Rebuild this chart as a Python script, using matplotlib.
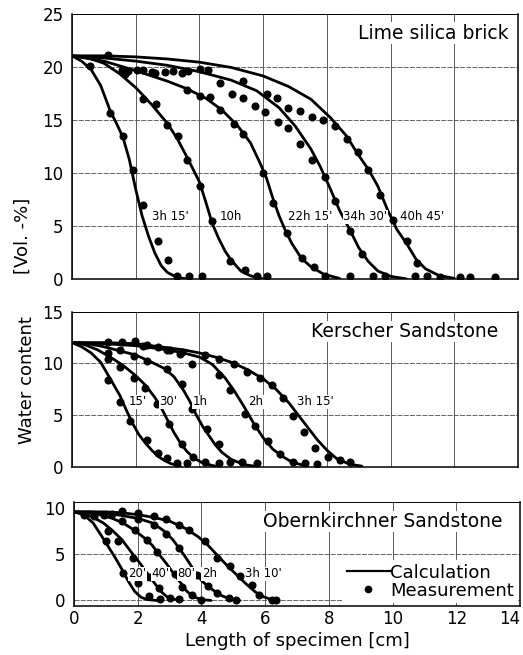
import matplotlib.pyplot as plt
from matplotlib.lines import Line2D

# Lime silica brick: calculated profiles and measured points
lime_labels = ["3h 15'", "10h", "22h 15'", "34h 30'", "40h 45'"]
lime_label_x = [2.5, 4.65, 6.79, 8.52, 10.3]
lime_label_y = 5.9
lime_calc_x = [
    [0, 0.3, 0.6, 0.9, 1.2, 1.4, 1.6, 1.8, 2.0, 2.2, 2.4, 2.6, 2.8, 3.0, 3.3, 3.7],
    [0, 0.5, 1.0, 1.5, 2.0, 2.5, 3.0, 3.3, 3.6, 3.8, 4.0, 4.2, 4.4, 4.6, 4.8, 5.0, 5.3, 5.6, 6.0],
    [0, 1.0, 2.0, 3.0, 3.6, 4.2, 4.7, 5.2, 5.6, 5.9, 6.1, 6.3, 6.5, 6.7, 6.9, 7.2, 7.5, 7.9, 8.4],
    [0, 1.0, 2.0, 3.0, 4.0, 5.0, 5.8, 6.5, 7.0, 7.5, 7.8, 8.1, 8.4, 8.7, 9.0, 9.3, 9.6, 10.0, 10.5],
    [0, 1.0, 2.0, 3.0, 4.0, 5.0, 6.0, 6.8, 7.5, 8.1, 8.6, 9.0, 9.3, 9.6, 9.9, 10.2, 10.5, 10.8,
     11.1, 11.5, 12.0],
]
lime_calc_y = [
    [21.1, 20.6, 19.8, 18.3, 15.9, 14.7, 13.4, 11.3, 8.5, 6.0, 4.1, 2.5, 1.3, 0.65, 0.2, 0.0],
    [21.1, 20.9, 20.4, 19.4, 18.1, 16.5, 14.7, 13.3, 11.6, 10.4, 9.2, 7.3, 5.3, 3.9, 2.7, 1.8, 0.8, 0.35, 0.05],
    [21.1, 20.6, 19.7, 18.7, 18.0, 17.1, 16.0, 14.5, 12.9, 11.0, 9.6, 7.7, 6.0, 4.6, 3.4, 2.0, 1.2, 0.5, 0.1],
    [21.1, 20.9, 20.6, 20.2, 19.6, 18.8, 17.8, 16.2, 14.5, 12.3, 10.6, 8.6, 6.5, 4.8, 3.0, 1.7, 0.8, 0.3, 0.05],
    [21.1, 21.1, 21.0, 20.8, 20.5, 20.0, 19.2, 18.2, 17.0, 15.3, 13.6, 11.7, 10.4, 8.8, 6.6, 4.7, 3.4, 1.9,
     1.0, 0.4, 0.1],
]
lime_meas_x = [
    [1.19, 1.61, 1.92, 2.24, 2.69, 3.0, 3.29, 3.66, 4.08],
    [0.56, 1.56, 1.66, 2.24, 2.64, 2.97, 3.34, 3.62, 4.02, 4.39, 4.97, 5.44, 5.80, 6.11],
    [1.77, 2.03, 2.5, 3.18, 3.60, 4.02, 4.33, 4.65, 5.07, 5.38, 6.01, 6.32, 6.74, 7.21, 7.58, 7.94, 8.73],
    [2.24, 2.6, 2.92, 3.44, 3.65, 4.02, 4.65, 5.01, 5.38, 5.74, 6.06, 6.48, 6.79, 7.16, 7.53, 7.94, 8.26,
     8.73, 9.09, 9.46, 9.83],
    [1.14, 4.28, 5.38, 6.11, 6.42, 6.79, 7.16, 7.53, 7.89, 8.26, 8.62, 8.99, 9.30, 9.67, 10.09, 10.51,
     10.83, 10.77, 11.14, 11.55, 12.18, 12.50, 13.28],
]
lime_meas_y = [
    [15.7, 13.5, 10.3, 7.0, 3.6, 1.8, 0.3, 0.3, 0.3],
    [20.1, 19.8, 19.4, 17.0, 16.6, 14.6, 13.5, 11.3, 8.8, 5.5, 1.7, 0.9, 0.3, 0.3],
    [19.7, 19.8, 19.6, 19.7, 17.9, 17.3, 17.2, 16.0, 14.7, 13.7, 10.0, 7.2, 4.4, 2.0, 1.2, 0.3, 0.3],
    [19.8, 19.5, 19.6, 19.5, 19.7, 19.9, 18.5, 17.5, 17.1, 16.4, 15.8, 14.9, 14.3, 12.8, 11.3, 9.7, 7.4,
     4.6, 2.4, 0.3, 0.3],
    [21.2, 19.8, 18.7, 17.5, 17.1, 16.2, 15.9, 15.3, 15.0, 14.5, 13.3, 12.0, 10.3, 8.0, 5.6, 3.6,
     1.6, 0.3, 0.3, 0.2, 0.2, 0.2, 0.2],
]

# Kerscher sandstone
kersch_labels = ["15'", "30'", "1h", "2h", "3h 15'"]
kersch_label_x = [1.77, 2.74, 3.79, 5.53, 7.05]
kersch_label_y = 6.3
kersch_calc_x = [
    [0, 0.3, 0.6, 0.9, 1.2, 1.5, 1.7, 1.9, 2.1, 2.3, 2.5, 2.7, 2.9, 3.1, 3.4],
    [0, 0.4, 0.8, 1.2, 1.6, 2.0, 2.3, 2.6, 2.8, 3.0, 3.2, 3.4, 3.6, 3.8, 4.1, 4.5],
    [0, 0.5, 1.0, 1.5, 2.0, 2.5, 2.9, 3.2, 3.5, 3.7, 3.9, 4.1, 4.3, 4.5, 4.7, 5.0, 5.4, 5.8],
    [0, 1.0, 2.0, 2.5, 3.0, 3.5, 4.0, 4.4, 4.8, 5.1, 5.4, 5.7, 6.0, 6.3, 6.6, 6.9, 7.3],
    [0, 1.0, 2.0, 3.0, 3.5, 4.0, 4.5, 5.0, 5.5, 6.0, 6.4, 6.8, 7.1, 7.4, 7.7, 8.0, 8.3, 8.7, 9.1],
]
kersch_calc_y = [
    [12.0, 11.6, 11.0, 10.1, 8.5, 6.9, 5.5, 4.2, 3.1, 2.3, 1.6, 1.0, 0.6, 0.3, 0.05],
    [12.0, 11.8, 11.3, 10.6, 9.8, 8.8, 7.9, 6.7, 5.7, 4.5, 3.3, 2.3, 1.5, 0.9, 0.35, 0.05],
    [12.0, 11.9, 11.6, 11.2, 10.8, 10.1, 9.5, 8.7, 7.4, 6.3, 5.0, 3.9, 3.0, 2.1, 1.4, 0.7, 0.2, 0.02],
    [12.0, 11.9, 11.7, 11.5, 11.3, 11.0, 10.6, 9.9, 8.6, 7.3, 5.8, 4.2, 2.8, 1.7, 1.0, 0.45, 0.1],
    [12.0, 12.0, 11.9, 11.5, 11.3, 11.0, 10.6, 10.1, 9.4, 8.5, 7.5, 6.2, 5.0, 3.8, 2.6, 1.6, 0.8, 0.25, 0.05],
]
kersch_meas_x = [
    [1.14, 1.51, 1.82, 2.34, 2.7, 2.97, 3.28, 3.6],
    [1.14, 1.51, 1.93, 2.29, 2.66, 3.03, 3.44, 3.81, 4.18, 4.6],
    [1.14, 1.51, 1.93, 2.35, 2.97, 3.44, 3.76, 4.23, 4.6, 4.97, 5.33, 5.8],
    [2.24, 2.97, 3.39, 3.76, 4.6, 4.97, 5.43, 5.74, 6.16, 6.53, 6.95, 7.32, 7.68],
    [1.14, 1.56, 1.98, 2.35, 2.71, 3.08, 3.44, 4.18, 4.6, 5.07, 5.48, 5.9, 6.27, 6.63, 6.95, 7.27,
     7.63, 8.05, 8.41, 8.73],
]
kersch_meas_y = [
    [8.4, 6.3, 4.4, 2.6, 1.3, 0.8, 0.4, 0.4],
    [10.4, 9.6, 8.6, 7.6, 6.1, 4.1, 2.2, 0.9, 0.5, 0.4],
    [11.0, 11.3, 10.7, 10.2, 9.4, 8.0, 5.6, 3.6, 2.2, 0.5, 0.5, 0.4],
    [11.7, 11.3, 10.9, 9.9, 8.9, 7.4, 5.1, 3.9, 2.5, 1.2, 0.5, 0.4, 0.3],
    [12.1, 12.1, 12.2, 11.8, 11.6, 11.3, 11.1, 10.8, 10.4, 9.9, 9.2, 8.6, 7.9, 6.6, 4.9, 3.4,
     1.8, 0.9, 0.6, 0.5],
]

# Obernkirchner sandstone
obern_labels = ["20'", "40'", "80'", "2h", "3h 10'"]
obern_label_x = [1.7, 2.44, 3.24, 4.01, 5.37]
obern_label_y = 2.9
obern_calc_x = [
    [0, 0.3, 0.6, 0.9, 1.1, 1.3, 1.5, 1.7, 1.9, 2.1, 2.3, 2.6],
    [0, 0.3, 0.6, 0.92, 1.2, 1.5, 1.85, 2.1, 2.31, 2.5, 2.72, 2.9, 3.1, 3.4],
    [0, 0.4, 0.8, 1.2, 1.54, 1.9, 2.2, 2.45, 2.67, 2.9, 3.13, 3.35, 3.54, 3.75, 4.0, 4.3],
    [0, 0.5, 1.0, 1.5, 2.0, 2.46, 2.8, 3.1, 3.44, 3.65, 3.85, 4.05, 4.25, 4.42, 4.65, 4.9, 5.2],
    [0, 0.5, 1.0, 1.5, 2.0, 2.5, 3.0, 3.5, 3.9, 4.2, 4.5, 4.8, 5.1, 5.4, 5.7, 5.95, 6.2, 6.4],
]
obern_calc_y = [
    [9.6, 9.3, 8.4, 6.8, 5.7, 4.6, 3.4, 2.1, 1.0, 0.35, 0.1, 0.0],
    [9.6, 9.4, 9.0, 8.4, 7.6, 6.6, 5.0, 3.9, 2.9, 2.0, 1.0, 0.45, 0.15, 0.0],
    [9.6, 9.5, 9.3, 8.9, 8.4, 7.6, 6.8, 6.0, 5.0, 4.0, 2.9, 1.9, 1.0, 0.4, 0.1, 0.0],
    [9.6, 9.6, 9.5, 9.2, 8.9, 8.4, 7.6, 6.6, 5.0, 3.9, 2.8, 2.0, 1.4, 1.0, 0.5, 0.15, 0.0],
    [9.6, 9.6, 9.6, 9.5, 9.3, 9.0, 8.6, 7.8, 6.9, 6.0, 4.9, 3.8, 2.8, 1.8, 0.9, 0.4, 0.1, 0.0],
]
obern_meas_x = [
    [0.31, 1.0, 1.54, 2.0, 2.36, 2.7],
    [0.62, 1.07, 1.38, 1.85, 2.36, 2.67, 3.0, 3.3],
    [0.93, 1.5, 1.9, 2.3, 2.6, 3.17, 3.4, 3.7, 4.0],
    [1.2, 2.0, 2.5, 2.9, 3.3, 3.85, 4.2, 4.5, 4.85, 5.1],
    [1.5, 2.0, 2.5, 2.9, 3.3, 3.6, 4.1, 4.5, 4.9, 5.2, 5.6, 5.8, 6.2, 6.35],
]
obern_meas_y = [
    [9.3, 6.4, 3.0, 1.9, 0.5, 0.2],
    [9.2, 7.5, 6.4, 4.6, 2.5, 1.4, 0.3, 0.2],
    [9.3, 8.6, 7.6, 6.5, 5.3, 2.9, 1.5, 0.6, 0.1],
    [9.4, 8.8, 8.2, 7.2, 5.7, 2.8, 1.6, 0.8, 0.3, 0.1],
    [9.7, 9.5, 9.1, 8.8, 8.2, 7.6, 6.4, 4.6, 3.7, 2.6, 1.7, 0.6, 0.1, 0.1],
]

x_ticks = [0, 2, 4, 6, 8, 10, 12, 14]

plt.rcParams['font.family'] = 'DejaVu Sans'

fig = plt.figure(figsize=(5.23, 6.55), dpi=100)
ax1 = fig.add_axes([0.1377, 0.5733, 0.8528, 0.4046])
ax2 = fig.add_axes([0.1377, 0.2875, 0.8528, 0.2368])
ax3 = fig.add_axes([0.1415, 0.0748, 0.8528, 0.1592])


def desenhar(ax, cx, cy, mx, my, nomes, lx, ly, titulo, tx, ty):
    for xs, ys in zip(cx, cy):
        ax.plot(xs, ys, color='black', lw=2.0, solid_capstyle='round', zorder=3)
    for xs, ys in zip(mx, my):
        ax.plot(xs, ys, 'o', color='black', ms=4.8, zorder=4)
    for nome, x in zip(nomes, lx):
        ax.text(x, ly, nome, fontsize=8.5, ha='left', va='center', zorder=5,
                bbox=dict(facecolor='white', edgecolor='none', pad=0.3))
    ax.text(tx, ty, titulo, transform=ax.transAxes, fontsize=13.5, ha='right', va='center',
            zorder=5, bbox=dict(facecolor='white', edgecolor='none', pad=1.0))

    ax.set_xlim(0, 14)
    ax.set_xticks(x_ticks)
    ax.xaxis.grid(True, color='0.25', lw=0.6)
    ax.yaxis.grid(True, color='0.3', lw=0.6, linestyle=(0, (6, 1.5)))
    ax.set_axisbelow(True)
    ax.tick_params(length=0, labelsize=12, pad=6)
    for s in ax.spines.values():
        s.set_linewidth(1.1)
    ax.spines['top'].set_linewidth(0.7)


desenhar(ax1, lime_calc_x, lime_calc_y, lime_meas_x, lime_meas_y,
         lime_labels, lime_label_x, lime_label_y, 'Lime silica brick', 0.978, 0.93)
ax1.set_ylim(0, 25)
ax1.set_yticks([0, 5, 10, 15, 20, 25])
ax1.set_xticklabels([])

desenhar(ax2, kersch_calc_x, kersch_calc_y, kersch_meas_x, kersch_meas_y,
         kersch_labels, kersch_label_x, kersch_label_y, 'Kerscher Sandstone', 0.955, 0.871)
ax2.set_ylim(0, 15)
ax2.set_yticks([0, 5, 10, 15])
ax2.set_xticklabels([])

desenhar(ax3, obern_calc_x, obern_calc_y, obern_meas_x, obern_meas_y,
         obern_labels, obern_label_x, obern_label_y, 'Obernkirchner Sandstone', 0.96, 0.81)
ax3.set_ylim(-0.6, 10.7)
ax3.set_yticks([0, 5, 10])
ax3.yaxis.get_gridlines()[-1].set_visible(False)
ax3.tick_params(axis='x', pad=3)
# o "14" fica encostado na borda direita
ax3.get_xticklabels()[-1].set_horizontalalignment('right')
ax3.set_xlabel('Length of specimen [cm]', fontsize=13, labelpad=3)

# legenda
handles = [Line2D([], [], color='black', lw=1.6),
           Line2D([], [], color='black', marker='o', ms=4.5, lw=0)]
leg = ax3.legend(handles, ['Calculation', 'Measurement'], loc='lower right',
                 fontsize=13, frameon=True, framealpha=1, edgecolor='none',
                 handlelength=2.4, handletextpad=0.0, labelspacing=0.0,
                 borderpad=0.2, borderaxespad=0.15, fancybox=False)

fig.text(0.044, 1 - 236 / 655, '[Vol. -%]', rotation=90, fontsize=13, ha='center', va='center')
fig.text(0.052, 1 - 380 / 655, 'Water content', rotation=90, fontsize=13, ha='center', va='center')

fig.savefig('out.png', dpi=100)
